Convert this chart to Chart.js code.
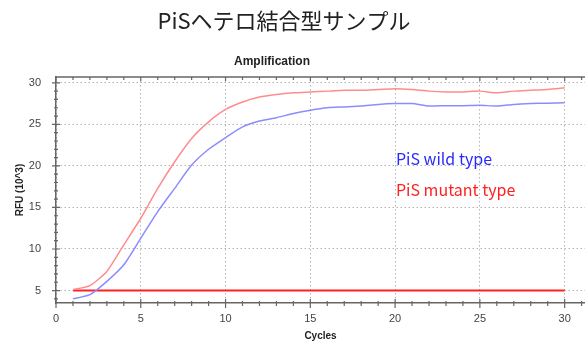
<!DOCTYPE html>
<html lang="ja">
<head>
<meta charset="UTF-8">
<script src="https://cdn.jsdelivr.net/npm/chart.js"></script>
<style>
  body { margin: 0; background: #fff; }
  #wrap { width: 585px; height: 342px; }
</style>
<title>PiS Amplification</title>
</head>
<body>
<div id="wrap"><canvas id="ampChart"></canvas></div>
<script>
// chart data
const cycles = [1,2,3,4,5,6,7,8,9,10,11,12,13,14,15,16,17,18,19,20,21,22,23,24,25,26,27,28,29,30];
const wildType = [4.0,4.5,6.1,8.1,11.3,14.5,17.3,20.1,22.0,23.4,24.7,25.4,25.8,26.3,26.7,27.0,27.1,27.2,27.4,27.5,27.5,27.2,27.25,27.25,27.3,27.2,27.4,27.5,27.55,27.6];
const mutantType = [5.1,5.6,7.3,10.5,13.7,17.3,20.5,23.3,25.3,26.8,27.7,28.3,28.6,28.8,28.9,29.0,29.1,29.1,29.2,29.3,29.2,29.0,28.9,28.9,29.0,28.8,29.0,29.1,29.2,29.4];
const negative = [5,5,5,5,5,5,5,5,5,5,5,5,5,5,5,5,5,5,5,5,5,5,5,5,5,5,5,5,5,5];
const xTicks = [0,5,10,15,20,25,30];
const yTicks = [5,10,15,20,25,30];

const mainTitle = 'PiSヘテロ結合型サンプル';
const subTitle = 'Amplification';

function toPoints(vals) {
  return vals.map((v, i) => ({x: cycles[i], y: v}));
}

// titles, minor ticks, top axis and the two labels
const decor = {
  id: 'decor',
  afterDraw(chart) {
    const ctx = chart.ctx;
    const xs = chart.scales.x, ys = chart.scales.y;
    const area = chart.chartArea;
    ctx.save();

    ctx.fillStyle = '#222';
    ctx.textAlign = 'center';
    ctx.textBaseline = 'middle';
    ctx.font = '22px "Noto Sans CJK JP"';
    ctx.fillText(mainTitle, 284, 21);
    ctx.font = 'bold 12px "Liberation Sans"';
    ctx.fillText(subTitle, 272, 62);

    ctx.strokeStyle = '#666';
    ctx.lineWidth = 1.5;
    ctx.beginPath();
    ctx.moveTo(area.left, area.top);
    ctx.lineTo(area.right, area.top);
    ctx.stroke();

    ctx.lineWidth = 1.2;
    ctx.beginPath();
    for (let i = 0; i <= 31; i++) {
      const px = xs.getPixelForValue(i);
      const major = i % 5 === 0;
      ctx.moveTo(px, area.bottom - (major ? 4 : 2));
      ctx.lineTo(px, area.bottom + (major ? 5 : 3));
      ctx.moveTo(px, area.top);
      ctx.lineTo(px, area.top + (major ? 4 : 3));
    }
    for (let v = 4; v <= 30; v++) {
      const py = ys.getPixelForValue(v);
      const major = v % 5 === 0;
      ctx.moveTo(area.left - (major ? 4 : 2), py);
      ctx.lineTo(area.left + (major ? 4 : 2), py);
    }
    ctx.stroke();

    ctx.textAlign = 'left';
    ctx.font = '16px "Noto Sans CJK JP"';
    ctx.fillStyle = '#2a2aff';
    ctx.fillText('PiS wild type', xs.getPixelForValue(20.05), ys.getPixelForValue(20.8));
    ctx.fillStyle = '#ff2020';
    ctx.fillText('PiS mutant type', xs.getPixelForValue(20.05), ys.getPixelForValue(17.1));
    ctx.restore();
  }
};

new Chart(document.getElementById('ampChart'), {
  type: 'line',
  data: {
    datasets: [
      {
        label: 'PiS mutant type',
        data: toPoints(mutantType),
        borderColor: '#ff8c8c',
        borderWidth: 1.5,
        pointRadius: 0,
        tension: 0.2
      },
      {
        label: 'PiS wild type',
        data: toPoints(wildType),
        borderColor: '#8c8cff',
        borderWidth: 1.5,
        pointRadius: 0,
        tension: 0.2
      },
      {
        label: 'Negative',
        data: toPoints(negative),
        borderColor: '#ff2020',
        borderWidth: 2,
        pointRadius: 0
      }
    ]
  },
  options: {
    responsive: true,
    maintainAspectRatio: false,
    animation: false,
    layout: { padding: { top: 77, left: 0, right: 0, bottom: 0 } },
    plugins: {
      legend: { display: false },
      tooltip: { enabled: false }
    },
    scales: {
      x: {
        type: 'linear',
        min: 0,
        max: 31.2,
        afterBuildTicks: s => { s.ticks = xTicks.map(v => ({value: v})); },
        afterFit: s => { s.height = 39; },
        grid: { color: '#b4b4b4', lineWidth: 1, drawTicks: false },
        border: { display: true, color: '#666', width: 1.5, dash: [1.5, 2.5] },
        ticks: { padding: 9, color: '#444', font: { family: 'Liberation Sans', size: 11 }, maxRotation: 0 },
        title: {
          display: true, text: 'Cycles', color: '#222',
          font: { family: 'Liberation Sans', size: 10, weight: 'bold' },
          padding: { top: 0, bottom: 0 }
        }
      },
      y: {
        min: 3.5,
        max: 30.7,
        afterBuildTicks: s => { s.ticks = yTicks.map(v => ({value: v})); },
        afterFit: s => { s.width = 56; },
        grid: { color: '#b4b4b4', lineWidth: 1, drawTicks: false },
        border: { display: true, color: '#666', width: 1.5, dash: [1.5, 2.5] },
        ticks: { padding: 15, color: '#444', font: { family: 'Liberation Sans', size: 11 } },
        title: {
          display: true, text: 'RFU (10^3)', color: '#222',
          font: { family: 'Liberation Sans', size: 10, weight: 'bold' },
          padding: { top: 14, bottom: 0 }
        }
      }
    }
  },
  plugins: [decor]
});
</script>
</body>
</html>
